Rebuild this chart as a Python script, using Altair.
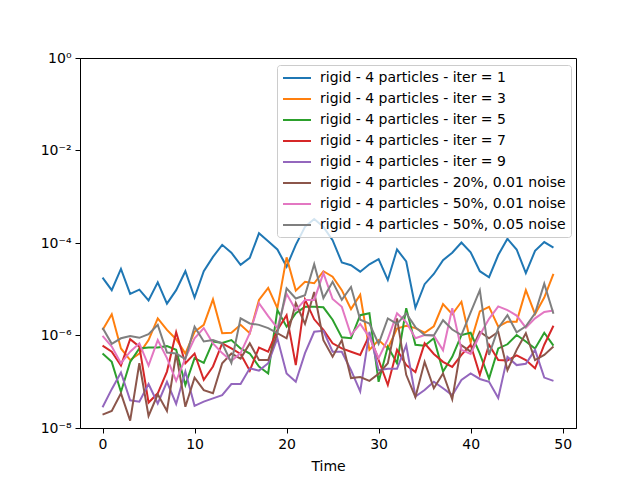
import altair as alt
import pandas as pd

# Time steps
time = list(range(50))

series_names = [
    "rigid - 4 particles - iter = 1",
    "rigid - 4 particles - iter = 3",
    "rigid - 4 particles - iter = 5",
    "rigid - 4 particles - iter = 7",
    "rigid - 4 particles - iter = 9",
    "rigid - 4 particles - 20%, 0.01 noise",
    "rigid - 4 particles - 50%, 0.01 noise",
    "rigid - 4 particles - 50%, 0.05 noise",
]
series_colors = ["#1f77b4", "#ff7f0e", "#2ca02c", "#d62728",
                 "#9467bd", "#8c564b", "#e377c2", "#7f7f7f"]

# values, as log10 of the error
iter1_log10 = [-4.75, -5.02, -4.56, -5.10, -5.01, -5.24, -4.85, -5.31, -5.02, -4.61,
               -5.18, -4.61, -4.30, -4.04, -4.21, -4.47, -4.32, -3.79, -3.96, -4.14,
               -4.51, -4.04, -3.65, -3.48, -3.65, -3.94, -4.42, -4.48, -4.62, -4.46,
               -4.35, -4.80, -4.14, -4.40, -5.40, -4.89, -4.67, -4.37, -4.21, -3.99,
               -4.20, -4.61, -4.74, -4.26, -3.91, -4.14, -4.65, -4.17, -3.98, -4.10]
iter3_log10 = [-5.88, -5.54, -6.28, -6.53, -6.39, -6.10, -5.63, -5.88, -6.08, -6.39,
               -5.92, -5.77, -5.22, -5.95, -5.94, -5.77, -5.95, -5.23, -4.97, -5.41,
               -4.31, -5.03, -4.84, -4.87, -4.61, -4.73, -5.02, -5.43, -5.12, -6.31,
               -6.10, -6.28, -5.85, -5.79, -5.84, -5.94, -5.80, -5.32, -5.54, -5.27,
               -6.15, -5.48, -5.38, -5.81, -5.70, -5.70, -5.02, -5.54, -5.18, -4.67]
iter5_log10 = [-6.39, -6.57, -7.22, -6.57, -6.28, -6.26, -6.26, -6.23, -6.31, -7.07,
               -6.49, -6.59, -6.13, -6.16, -6.10, -6.28, -6.39, -6.67, -6.82, -5.45,
               -5.81, -5.52, -5.38, -5.38, -5.39, -5.66, -6.04, -6.06, -5.56, -5.52,
               -7.00, -6.24, -6.60, -5.41, -6.20, -6.22, -6.06, -6.78, -6.46, -5.99,
               -5.94, -6.39, -6.93, -6.28, -6.19, -5.99, -6.13, -6.28, -5.94, -6.22]
iter7_log10 = [-6.22, -6.35, -6.65, -6.08, -6.24, -7.45, -7.25, -6.78, -5.93, -6.60,
               -6.39, -6.96, -6.67, -6.17, -6.28, -6.40, -6.76, -6.26, -6.35, -5.88,
               -5.56, -6.64, -5.22, -5.65, -5.88, -6.17, -6.28, -6.35, -6.42, -5.99,
               -6.53, -7.07, -6.31, -6.64, -6.79, -6.17, -6.40, -6.57, -6.68, -6.42,
               -6.20, -6.85, -6.20, -6.53, -6.54, -6.43, -6.53, -6.71, -6.20, -5.79]
iter9_log10 = [-7.55, -7.16, -6.80, -7.40, -7.43, -7.05, -7.47, -7.00, -7.48, -6.78,
               -7.52, -7.43, -7.36, -7.29, -7.05, -7.05, -6.71, -6.76, -6.60, -6.06,
               -6.82, -7.00, -6.38, -5.92, -5.90, -6.35, -6.35, -6.75, -7.21, -5.92,
               -6.75, -6.72, -6.72, -6.21, -7.32, -7.18, -7.00, -7.14, -7.29, -6.96,
               -6.82, -6.94, -7.00, -7.35, -6.46, -6.64, -6.61, -6.31, -6.91, -6.98]
noise20_001_log10 = [-7.71, -7.63, -7.25, -7.84, -6.60, -7.74, -7.27, -7.63, -6.39, -7.54,
                     -6.91, -7.18, -7.25, -6.60, -6.39, -6.50, -6.17, -6.53, -6.53, -5.95,
                     -6.06, -5.30, -5.75, -5.06, -6.10, -6.46, -6.10, -6.92, -6.90, -6.98,
                     -6.83, -6.60, -5.63, -6.85, -7.33, -6.57, -7.14, -6.82, -7.38, -6.21,
                     -6.35, -5.92, -6.06, -5.92, -6.75, -6.31, -5.95, -6.53, -6.42, -6.24]
noise50_001_log10 = [-6.01, -6.24, -6.60, -6.35, -6.17, -6.65, -6.10, -6.49, -6.98, -6.49,
                     -6.06, -5.84, -6.17, -6.38, -6.55, -6.38, -5.95, -5.30, -5.58, -5.84,
                     -5.10, -5.45, -5.23, -5.23, -4.65, -5.21, -5.38, -5.99, -5.75, -6.04,
                     -6.49, -6.08, -5.52, -5.71, -6.06, -5.99, -6.00, -6.32, -5.41, -6.31,
                     -6.40, -5.99, -5.64, -5.37, -5.45, -5.57, -5.83, -5.63, -5.49, -5.46]
noise50_005_log10 = [-5.83, -6.18, -6.06, -6.01, -6.05, -5.97, -5.77, -6.37, -6.39, -6.51,
                     -5.81, -6.13, -6.10, -6.17, -6.59, -5.63, -5.74, -5.77, -5.84, -5.95,
                     -4.98, -5.20, -5.13, -4.46, -5.19, -4.84, -5.23, -4.95, -5.66, -5.74,
                     -6.18, -5.63, -5.75, -5.52, -5.82, -5.99, -6.00, -5.67, -5.87, -5.99,
                     -5.50, -5.02, -6.42, -5.84, -5.56, -5.93, -5.80, -5.52, -4.88, -5.53]

all_series = [iter1_log10, iter3_log10, iter5_log10, iter7_log10, iter9_log10,
              noise20_001_log10, noise50_001_log10, noise50_005_log10]

y_tick_values = [1e-8, 1e-6, 1e-4, 1e-2, 1.0]
x_tick_values = [0, 10, 20, 30, 40, 50]

rows = []
for k, (name, vals) in enumerate(zip(series_names, all_series)):
    for t, e in zip(time, vals):
        rows.append({"Time": t, "value": 10.0 ** e, "series": name, "k": k})
df = pd.DataFrame(rows)

label_expr = ("datum.value >= 0.5 ? '10⁰' : datum.value >= 0.005 ? '10⁻²' : "
              "datum.value >= 5e-5 ? '10⁻⁴' : datum.value >= 5e-7 ? '10⁻⁶' : '10⁻⁸'")

axis_common = dict(
    grid=False, domainColor="black", domainWidth=1, tickColor="black",
    tickSize=5, tickWidth=1, labelColor="black", labelFont="DejaVu Sans",
    labelFontSize=14, labelPadding=4,
)

chart = alt.Chart(df).mark_line(strokeWidth=2).encode(
    x=alt.X("Time:Q",
            scale=alt.Scale(domain=[-2.45, 51.45], nice=False, zero=False),
            axis=alt.Axis(values=x_tick_values, title="Time", titleFont="DejaVu Sans",
                          titleFontSize=14, titleFontWeight="normal", titleColor="black",
                          titlePadding=8, labelFlush=False, **axis_common)),
    y=alt.Y("value:Q",
            scale=alt.Scale(type="log", domain=[1e-8, 1.0], nice=False),
            axis=alt.Axis(values=y_tick_values, labelExpr=label_expr, title=None,
                          **axis_common)),
    color=alt.Color("series:N", sort=series_names,
                    scale=alt.Scale(domain=series_names, range=series_colors),
                    legend=alt.Legend(
                        title=None, orient="none", legendX=197, legendY=7, padding=5,
                        fillColor="rgba(255,255,255,0.8)", strokeColor="#cccccc",
                        cornerRadius=3, symbolType="M-2,0H2", symbolSize=196,
                        symbolStrokeWidth=2, symbolOffset=7, labelOffset=15,
                        labelFont="DejaVu Sans", labelFontSize=14, labelColor="black",
                        rowPadding=6, labelLimit=500)),
    order=alt.Order("k:Q"),
).properties(
    width=496, height=370,
    autosize=alt.AutoSizeParams(type="none"),
    padding={"left": 72, "top": 50, "right": 50, "bottom": 44},
).configure(
    font="DejaVu Sans", background="white",
    view=alt.ViewConfig(stroke="black", strokeWidth=1),
)

chart.save("out.html", embed_options={"renderer": "svg", "actions": False})
